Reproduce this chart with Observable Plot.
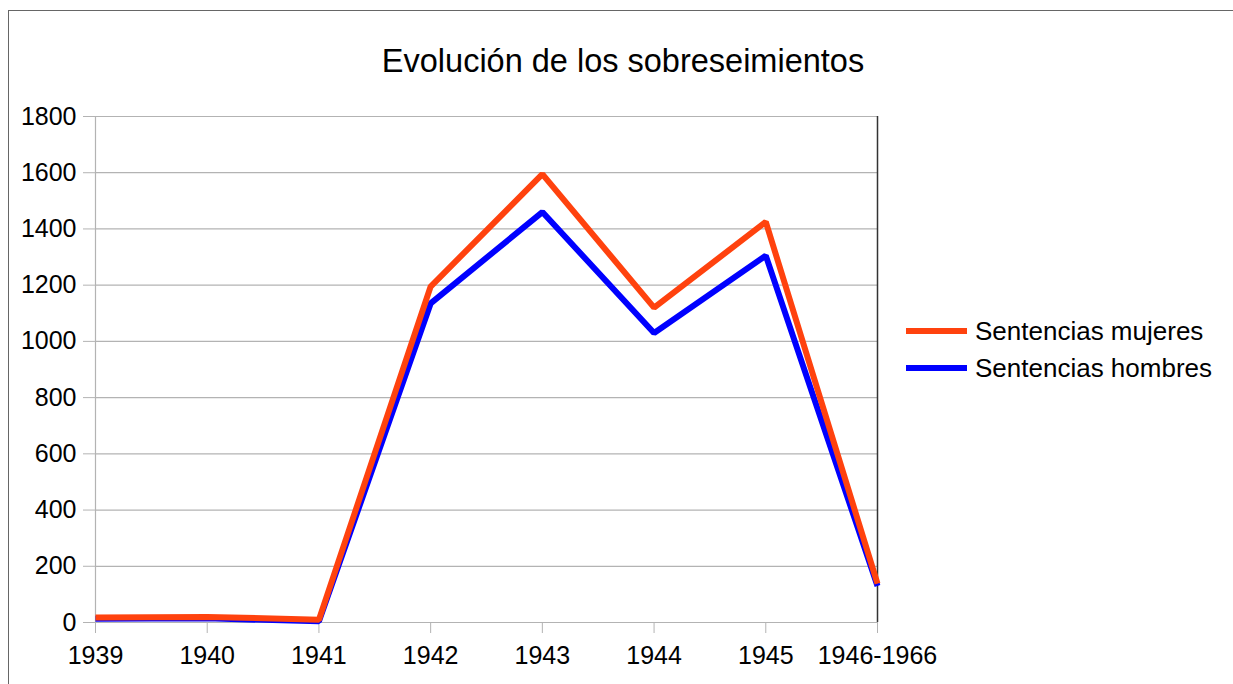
<!DOCTYPE html>
<html>
<head>
<meta charset="utf-8">
<script src="https://cdn.jsdelivr.net/npm/d3@7"></script>
<script src="https://cdn.jsdelivr.net/npm/@observablehq/plot@0.6"></script>
<style>
  html, body { margin: 0; padding: 0; background: #fff; }
  body { width: 1233px; height: 684px; overflow: hidden; font-family: "Liberation Sans", Arial, sans-serif; }
  #wrap { position: relative; width: 1233px; height: 684px; }
  #frame { position: absolute; left: 8px; top: 10px; width: 1300px; height: 800px; border-left: 1px solid #666; border-top: 1px solid #666; box-sizing: border-box; }
  #title { position: absolute; left: 0; width: 1246px; top: 45px; text-align: center; font-size: 32.5px; color: #000; line-height: 1; }
  #chart { position: absolute; left: 0; top: 0; }
  .leg { position: absolute; left: 906px; height: 26px; display: flex; align-items: center; font-size: 26px; color: #000; white-space: nowrap; }
  .leg .sw { width: 61px; height: 6px; margin-right: 8px; }
</style>
</head>
<body>
<div id="wrap">
  <div id="frame"></div>
  <div id="chart"></div>
  <div id="title">Evolución de los sobreseimientos</div>
</div>
<script>
const categories = ["1939", "1940", "1941", "1942", "1943", "1944", "1945", "1946-1966"];
const mujeres = [18, 20, 10, 1195, 1595, 1120, 1425, 138];
const hombres = [13, 15, 4, 1135, 1460, 1030, 1305, 130];
const seriesNames = ["Sentencias mujeres", "Sentencias hombres"];
const seriesColors = ["#ff420e", "#0000ff"];
const yTicks = [0, 200, 400, 600, 800, 1000, 1200, 1400, 1600, 1800];

const rows = [];
// draw hombres first so mujeres sits on top
[[hombres, 1], [mujeres, 0]].forEach(([vals, si]) => {
  vals.forEach((v, i) => rows.push({cat: categories[i], value: v, series: seriesNames[si]}));
});

const plot = Plot.plot({
  width: 1233,
  height: 684,
  marginLeft: 95,
  marginRight: 356,
  marginTop: 116,
  marginBottom: 62,
  style: {fontFamily: "Liberation Sans, Arial, sans-serif", background: "transparent", overflow: "visible", color: "#000"},
  x: {type: "point", domain: categories, padding: 0, round: false},
  y: {domain: [0, 1800]},
  color: {domain: seriesNames, range: seriesColors},
  marks: [
    Plot.gridY(yTicks, {stroke: "#b3b3b3", strokeOpacity: 1, strokeWidth: 1.2}),
    Plot.ruleX([categories[0]], {stroke: "#b3b3b3", strokeWidth: 1.2}),
    Plot.ruleX([categories[categories.length - 1]], {stroke: "#333", strokeWidth: 1.5}),
    Plot.ruleY([0], {stroke: "#b3b3b3", strokeWidth: 1.2}),
    Plot.axisY({ticks: yTicks, tickSize: 12, tickPadding: 7, fontSize: 25, stroke: "#b3b3b3", fill: "#000", label: null, tickFormat: d => String(d)}),
    Plot.axisX({tickSize: 11, tickPadding: 13, fontSize: 25, stroke: "#b3b3b3", fill: "#000", label: null}),
    Plot.line(rows, {x: "cat", y: "value", z: "series", stroke: "series", strokeWidth: 6, strokeLinejoin: "miter", strokeLinecap: "butt"})
  ]
});
document.getElementById("chart").appendChild(plot);

const wrap = document.getElementById("wrap");
const legTops = [318, 355];
seriesNames.forEach((name, i) => {
  const d = document.createElement("div");
  d.className = "leg";
  d.style.top = legTops[i] + "px";
  const sw = document.createElement("div");
  sw.className = "sw";
  sw.style.background = seriesColors[i];
  const t = document.createElement("span");
  t.textContent = name;
  d.appendChild(sw);
  d.appendChild(t);
  wrap.appendChild(d);
});
</script>
</body>
</html>
